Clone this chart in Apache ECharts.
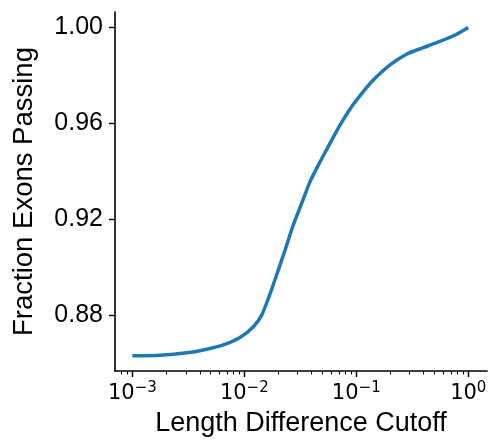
<!DOCTYPE html>
<html>
<head>
<meta charset="utf-8">
<script src="https://cdn.jsdelivr.net/npm/echarts@6/dist/echarts.min.js"></script>
<style>
  html, body { margin: 0; padding: 0; background: #fff; }
  #chart { width: 493px; height: 442px; }
</style>
</head>
<body>
<div id="chart"></div>
<script>
// Cumulative fraction of exons passing vs. length-difference cutoff (log x).
const cutoff = [
  0.001, 0.00177, 0.00306, 0.00461, 0.00649, 0.00914, 0.0120, 0.0143,
  0.0170, 0.0201, 0.0231, 0.0270, 0.0325, 0.0386, 0.0458, 0.0582,
  0.0715, 0.0908, 0.1155, 0.142, 0.200, 0.281, 0.396, 0.558, 0.787, 1.0
];
const fractionPassing = [
  0.8631, 0.8633, 0.8643, 0.8658, 0.8676, 0.8707, 0.8751, 0.8800,
  0.8890, 0.8988, 0.9071, 0.9169, 0.9266, 0.9357, 0.9426, 0.9517,
  0.9593, 0.9670, 0.9733, 0.9781, 0.9844, 0.9889, 0.9916, 0.9942,
  0.9972, 1.0000
];
const xMajorTicks = [0.001, 0.01, 0.1, 1];
const xMinorTicks = [
  0.0008, 0.0009,
  0.002, 0.003, 0.004, 0.005, 0.006, 0.007, 0.008, 0.009,
  0.02, 0.03, 0.04, 0.05, 0.06, 0.07, 0.08, 0.09,
  0.2, 0.3, 0.4, 0.5, 0.6, 0.7, 0.8, 0.9
];
const yTicks = [0.88, 0.92, 0.96, 1.00];

const SANS = "Liberation Sans, Arial, sans-serif";
const MATH = "DejaVu Sans";
const X_MIN = 0.0007, X_MAX = 1.47;
const Y_MIN = 0.8567, Y_MAX = 1.0065;

const chart = echarts.init(document.getElementById("chart"), null, { renderer: "canvas" });

const points = cutoff.map((x, i) => [x, fractionPassing[i]]);

chart.setOption({
  animation: false,
  grid: { left: 115, right: 6, top: 12, bottom: 71 },
  xAxis: [
    {
      type: "log",
      logBase: 10,
      min: X_MIN,
      max: X_MAX,
      name: "Length Difference Cutoff",
      nameLocation: "middle",
      nameGap: 39,
      nameTextStyle: { fontFamily: SANS, fontSize: 27, color: "#000" },
      axisLine: { lineStyle: { color: "#000", width: 1.6 } },
      axisTick: { customValues: xMajorTicks, length: 6, lineStyle: { color: "#000", width: 1.4 } },
      axisLabel: {
        customValues: xMajorTicks,
        margin: 10,
        fontFamily: MATH,
        fontSize: 21,
        color: "#000",
        formatter: (v) => {
          const e = Math.round(Math.log10(v));
          return "10{s|" + (e < 0 ? "\u2212" + (-e) : e) + "}";
        },
        rich: {
          s: { fontFamily: MATH, fontSize: 15, color: "#000", verticalAlign: "top", padding: [0, 0, 10, 0] }
        }
      },
      splitLine: { show: false },
      minorTick: { show: false }
    },
    {
      type: "log",
      logBase: 10,
      min: X_MIN,
      max: X_MAX,
      position: "bottom",
      axisLine: { show: false },
      axisTick: { customValues: xMinorTicks, length: 3.5, lineStyle: { color: "#000", width: 1 } },
      axisLabel: { show: false },
      splitLine: { show: false }
    }
  ],
  yAxis: {
    type: "value",
    min: Y_MIN,
    max: Y_MAX,
    name: "Fraction Exons Passing",
    nameLocation: "middle",
    nameGap: 77,
    nameTextStyle: { fontFamily: SANS, fontSize: 27.5, color: "#000" },
    axisLine: { show: true, lineStyle: { color: "#000", width: 1.6 } },
    axisTick: { show: true, customValues: yTicks, length: 6, lineStyle: { color: "#000", width: 1.4 } },
    axisLabel: {
      customValues: yTicks,
      margin: 12,
      fontFamily: SANS,
      fontSize: 25,
      color: "#000",
      formatter: (v) => v.toFixed(2)
    },
    splitLine: { show: false }
  },
  series: [
    {
      type: "line",
      xAxisIndex: 0,
      data: points,
      smooth: 0.2,
      showSymbol: false,
      lineStyle: { color: "#1f77b4", width: 3.5 }
    }
  ]
});
</script>
</body>
</html>
